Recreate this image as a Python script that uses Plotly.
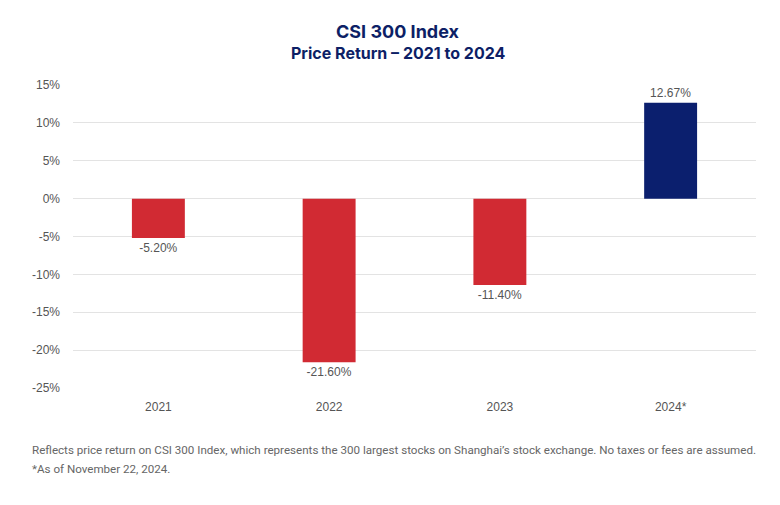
import plotly.graph_objects as go

categories = ["2021", "2022", "2023", "2024*"]
returns = [-5.20, -21.60, -11.40, 12.67]
labels = ["-5.20%", "-21.60%", "-11.40%", "12.67%"]
bar_colors = ["#d12a33", "#d12a33", "#d12a33", "#0b1f6e"]
y_ticks = [15, 10, 5, 0, -5, -10, -15, -20, -25]
y_tick_text = ["15%", "10%", "5%", "0%", "-5%", "-10%", "-15%", "-20%", "-25%"]

fig = go.Figure()
fig.add_trace(go.Bar(
    x=categories, y=returns, text=labels, textposition="outside",
    marker=dict(color=bar_colors, line=dict(width=0)),
    textfont=dict(family="Liberation Sans, Arial, sans-serif", size=12, color="#555555"),
    cliponaxis=False, width=0.31,
))

fig.update_layout(
    width=772, height=497,
    margin=dict(l=65, r=24, t=77, b=117),
    paper_bgcolor="white", plot_bgcolor="white",
    showlegend=False,
    font=dict(family="Liberation Sans, Arial, sans-serif", size=12, color="#555555"),
    xaxis=dict(showgrid=False, showline=False, ticks="", ticklabelstandoff=10,
               tickfont=dict(size=12, color="#555555")),
    yaxis=dict(range=[-25, 15], tickvals=y_ticks, ticktext=y_tick_text,
               showgrid=True, gridcolor="#e3e3e3", gridwidth=1,
               zeroline=True, zerolinecolor="#e3e3e3", zerolinewidth=1,
               showline=False, ticks="", ticklabelstandoff=12,
               tickfont=dict(size=12, color="#555555")),
    annotations=[
        dict(text="<b>CSI 300 Index</b>", xref="paper", yref="paper", x=0.476, y=1.178,
             showarrow=False, xanchor="center", yanchor="middle",
             font=dict(family="Inter, sans-serif", size=18, color="#0d1f66")),
        dict(text="<b>Price Return – 2021 to 2024</b>", xref="paper", yref="paper", x=0.476, y=1.106,
             showarrow=False, xanchor="center", yanchor="middle",
             font=dict(family="Inter, sans-serif", size=16, color="#0d1f66")),
        dict(text="Reflects price return on CSI 300 Index, which represents the 300 largest stocks on Shanghai’s stock exchange. No taxes or fees are assumed.",
             xref="paper", yref="paper", x=-0.063, y=-0.205, showarrow=False,
             xanchor="left", yanchor="middle",
             font=dict(family="Roboto, sans-serif", size=11.6, color="#666666")),
        dict(text="*As of November 22, 2024.",
             xref="paper", yref="paper", x=-0.063, y=-0.266, showarrow=False,
             xanchor="left", yanchor="middle",
             font=dict(family="Roboto, sans-serif", size=11.6, color="#666666")),
    ],
)

fig.write_html("out.html")
